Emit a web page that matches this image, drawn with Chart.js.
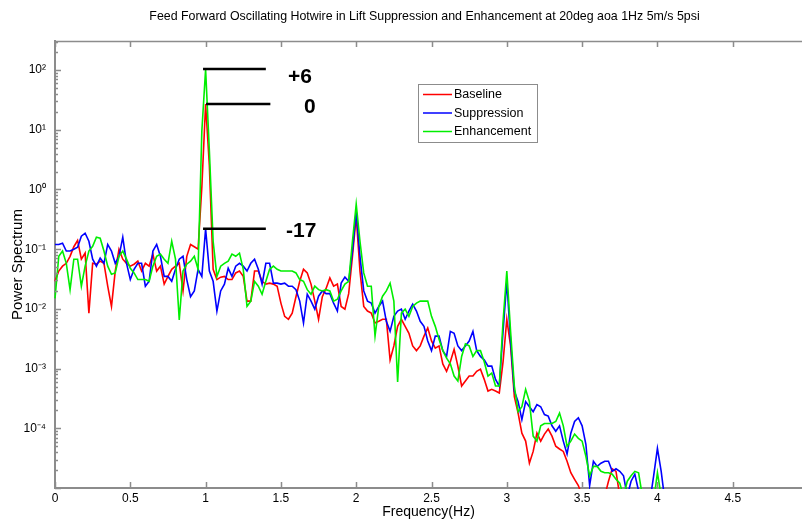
<!DOCTYPE html>
<html lang="en">
<head>
  <meta charset="UTF-8" />
  <title>Feed Forward Oscillating Hotwire - Power Spectrum</title>
  <script src="https://cdn.jsdelivr.net/npm/chart.js"></script>
  <style>
    body { margin: 0; background: #fff; }
    #wrap { width: 802px; height: 521px; }
  </style>
</head>
<body>
  <div id="wrap"><canvas id="psdChart" width="802" height="521"></canvas></div>

  <script>
    const TITLE = 'Feed Forward Oscillating Hotwire in Lift Suppression and Enhancement at 20deg aoa 1Hz 5m/s 5psi';
    const FREQ_STEP = 0.025; // Hz between spectrum bins

    const BASELINE = [
      0.029, 0.043, 0.052, 0.058, 0.076, 0.11, 0.14, 0.068, 0.086, 0.0085,
      0.058, 0.056, 0.063, 0.058, 0.024, 0.011, 0.043, 0.10, 0.068, 0.058,
      0.052, 0.056, 0.063, 0.043, 0.058, 0.052, 0.083, 0.043, 0.052, 0.026,
      0.035, 0.046, 0.052, 0.058, 0.020, 0.076, 0.12, 0.11, 0.10, 1.1,
      27, 2.5, 0.046, 0.031, 0.034, 0.035, 0.031, 0.031, 0.040, 0.043,
      0.035, 0.0135, 0.0135, 0.043, 0.043, 0.029, 0.026, 0.027, 0.026, 0.024,
      0.0125, 0.0075, 0.0067, 0.0085, 0.016, 0.029, 0.046, 0.040, 0.026, 0.0135,
      0.0067, 0.016, 0.022, 0.033, 0.024, 0.026, 0.011, 0.0099, 0.018, 0.076,
      0.36, 0.043, 0.011, 0.0092, 0.0085, 0.0058, 0.0062, 0.0067, 0.0067, 0.0014,
      0.0024, 0.0051, 0.0067, 0.0051, 0.0039, 0.0024, 0.0020, 0.0024, 0.0035, 0.0048,
      0.0029, 0.0022, 0.0024, 0.0012, 0.0009, 0.0013, 0.0021, 0.0011, 0.00051, 0.00062,
      0.00075, 0.00075, 0.0009, 0.00098, 0.00066, 0.00042, 0.00045, 0.00042, 0.00039, 0.0013,
      0.0067, 0.0024, 0.00034, 0.00018, 0.000083, 0.000061, 0.000026, 0.000041, 0.000083, 0.000061,
      0.00008, 0.000097, 0.000074, 0.00005, 0.000045, 0.000041, 0.000028, 0.000018, 0.000014, 0.000011,
      7.3e-6, 6e-6, 6e-6, 6e-6, 6e-6, 6e-6, 7.3e-6, 0.000013, 0.000021, 0.000019,
      7.3e-6, 6e-6, 6e-6, 6e-6, 6e-6, 6e-6, 6e-6, 6e-6, 6e-6, 6e-6, 6e-6, 6e-6
    ];

    const SUPPRESSION = [
      0.12, 0.12, 0.126, 0.093, 0.093, 0.10, 0.108, 0.165, 0.185, 0.136,
      0.068, 0.052, 0.071, 0.058, 0.12, 0.093, 0.058, 0.076, 0.159, 0.058,
      0.031, 0.046, 0.058, 0.058, 0.024, 0.029, 0.093, 0.12, 0.076, 0.035,
      0.035, 0.029, 0.046, 0.068, 0.076, 0.031, 0.016, 0.020, 0.046, 0.035,
      0.22, 0.043, 0.029, 0.0092, 0.020, 0.026, 0.048, 0.035, 0.052, 0.058,
      0.052, 0.043, 0.058, 0.068, 0.046, 0.026, 0.058, 0.058, 0.027, 0.027,
      0.026, 0.027, 0.024, 0.024, 0.021, 0.0135, 0.0058, 0.0176, 0.0135, 0.0099,
      0.0163, 0.020, 0.018, 0.018, 0.0125, 0.0092, 0.027, 0.034, 0.029, 0.093,
      0.43, 0.076, 0.020, 0.0135, 0.0125, 0.0085, 0.011, 0.0135, 0.0062, 0.0042,
      0.0075, 0.0092, 0.0099, 0.0067, 0.0092, 0.012, 0.0092, 0.0062, 0.0051, 0.0029,
      0.0020, 0.0035, 0.0035, 0.0020, 0.0016, 0.0042, 0.0039, 0.0024, 0.0020, 0.0024,
      0.0029, 0.0042, 0.0020, 0.0016, 0.0014, 0.0011, 0.0011, 0.00066, 0.00051, 0.0042,
      0.029, 0.0029, 0.00042, 0.00028, 0.00014, 0.00028, 0.00023, 0.00019, 0.00025, 0.00023,
      0.00017, 0.00016, 0.00011, 0.000089, 0.00011, 0.000061, 0.000037, 0.000083, 0.00013, 0.00015,
      0.00011, 0.000054, 0.000011, 0.000028, 0.000023, 0.000026, 0.000028, 0.000028, 0.000019, 0.000021,
      0.000019, 0.000016, 7.3e-6, 0.000013, 0.000017, 8.9e-6, 6.5e-6, 6e-6, 6e-6, 0.000016,
      0.000046, 0.000019, 6e-6
    ];

    const ENHANCEMENT = [
      0.015, 0.076, 0.093, 0.058, 0.021, 0.068, 0.068, 0.024, 0.052, 0.093,
      0.112, 0.159, 0.153, 0.093, 0.052, 0.038, 0.040, 0.076, 0.093, 0.068,
      0.048, 0.040, 0.031, 0.031, 0.031, 0.029, 0.052, 0.076, 0.083, 0.068,
      0.058, 0.136, 0.068, 0.0065, 0.043, 0.056, 0.063, 0.076, 0.046, 9.5,
      103, 4.4, 0.136, 0.035, 0.052, 0.058, 0.063, 0.083, 0.076, 0.086,
      0.046, 0.011, 0.0135, 0.029, 0.024, 0.0176, 0.029, 0.046, 0.052, 0.046,
      0.043, 0.043, 0.043, 0.043, 0.040, 0.031, 0.029, 0.021, 0.0176, 0.024,
      0.021, 0.020, 0.021, 0.020, 0.0135, 0.0145, 0.020, 0.026, 0.029, 0.136,
      0.57, 0.136, 0.040, 0.024, 0.024, 0.0035, 0.011, 0.0163, 0.020, 0.027,
      0.0135, 0.0006, 0.0085, 0.0099, 0.0075, 0.011, 0.0125, 0.0135, 0.0135, 0.0135,
      0.0075, 0.0051, 0.0031, 0.0020, 0.0015, 0.0012, 0.00075, 0.00062, 0.0016, 0.0026,
      0.0024, 0.0016, 0.0020, 0.0020, 0.0013, 0.00075, 0.00084, 0.00051, 0.00051, 0.0062,
      0.043, 0.0042, 0.00051, 0.00019, 0.00023, 0.00045, 0.00028, 0.000074, 0.000061, 0.00011,
      0.00012, 0.00012, 0.00012, 0.00013, 0.00018, 0.00011, 0.00005, 0.000061, 0.00008, 0.000068,
      0.000061, 0.000034, 0.000016, 0.000023, 0.000023, 0.000019, 0.000018, 0.000018, 0.000017, 0.000014,
      0.000012, 7.3e-6, 0.000013, 0.000016, 0.000019, 0.000018, 7.3e-6, 6e-6, 6e-6, 6e-6,
      0.000018, 7.3e-6
    ];

    const X_TICKS = [0, 0.5, 1, 1.5, 2, 2.5, 3, 3.5, 4, 4.5];

    // horizontal marker lines at the 1 Hz peak and their dB labels
    const MARK_LABELS = ['+6', '0', '-17'];
    const MARK_LEVELS = [104, 27, 0.22];
    const MARK_START = [0.983, 1.003, 0.983];
    const MARK_END = [1.40, 1.43, 1.40];
    const MARK_TEXT_X = [1.547, 1.653, 1.534];
    const MARK_TEXT_Y = [76, 24, 0.20];

    const AXIS_GREY = '#8c8c8c';
    const FONT = 'Arial, "Liberation Sans", sans-serif';

    function toPoints(values) {
      return values.map((v, i) => ({ x: +(i * FREQ_STEP).toFixed(3), y: v }));
    }

    const SUP = { '-': '\u207B', '0': '\u2070', '1': '\u00B9', '2': '\u00B2', '3': '\u00B3', '4': '\u2074', '5': '\u2075' };
    function powerLabel(v) {
      const e = Math.log10(v);
      const r = Math.round(e);
      if (Math.abs(e - r) > 1e-6 || r < -4 || r > 2) return '';
      return '10' + String(r).split('').map(c => SUP[c]).join('');
    }

    const series = [
      { label: 'Baseline', values: BASELINE, color: '#ff0000', order: 3 },
      { label: 'Suppression', values: SUPPRESSION, color: '#0000ff', order: 2 },
      { label: 'Enhancement', values: ENHANCEMENT, color: '#00ee00', order: 1 }
    ];

    const datasets = series.map(s => ({
      label: s.label,
      data: toPoints(s.values),
      borderColor: s.color,
      backgroundColor: s.color,
      borderWidth: 1.6,
      pointRadius: 0,
      tension: 0,
      order: s.order,
      clip: 1
    }));

    MARK_LEVELS.forEach((lvl, k) => {
      datasets.push({
        label: 'mark ' + MARK_LABELS[k],
        data: [{ x: MARK_START[k], y: lvl }, { x: MARK_END[k], y: lvl }],
        borderColor: '#000',
        borderWidth: 2.5,
        pointRadius: 0,
        order: 0
      });
    });

    const matlabFrame = {
      id: 'matlabFrame',
      afterDatasetsDraw(chart) {
        const { ctx, chartArea: a, scales: { x, y } } = chart;
        ctx.save();

        // top border and inward ticks
        ctx.strokeStyle = AXIS_GREY;
        ctx.lineWidth = 1.5;
        ctx.beginPath();
        ctx.moveTo(a.left, a.top + 0.5);
        ctx.lineTo(a.right, a.top + 0.5);
        X_TICKS.forEach(v => {
          const px = Math.round(x.getPixelForValue(v)) + 0.5;
          ctx.moveTo(px, a.bottom);
          ctx.lineTo(px, a.bottom - 6);
          ctx.moveTo(px, a.top);
          ctx.lineTo(px, a.top + 6);
        });
        for (let e = -5; e <= 2; e++) {
          for (let k = 1; k <= 9; k++) {
            const v = k * Math.pow(10, e);
            if (v < y.min || v > y.max) continue;
            const py = Math.round(y.getPixelForValue(v)) + 0.5;
            ctx.moveTo(a.left, py);
            ctx.lineTo(a.left + (k === 1 ? 6 : 3), py);
          }
        }
        ctx.stroke();

        // marker labels
        ctx.fillStyle = '#000';
        ctx.font = 'bold 21px ' + FONT;
        ctx.textAlign = 'left';
        ctx.textBaseline = 'middle';
        MARK_LABELS.forEach((t, k) => {
          ctx.fillText(t, x.getPixelForValue(MARK_TEXT_X[k]), y.getPixelForValue(MARK_TEXT_Y[k]));
        });

        // legend box
        const lx = a.left + 363, ly = a.top + 43, lw = 119, lh = 58;
        ctx.fillStyle = '#fff';
        ctx.fillRect(lx, ly, lw, lh);
        ctx.strokeStyle = '#8c8c8c';
        ctx.lineWidth = 1;
        ctx.strokeRect(lx + 0.5, ly + 0.5, lw, lh);
        ctx.font = '12.5px ' + FONT;
        ctx.textBaseline = 'middle';
        series.forEach((s, i) => {
          const ry = ly + 10.5 + i * 18.5;
          ctx.strokeStyle = s.color;
          ctx.lineWidth = 1.5;
          ctx.beginPath();
          ctx.moveTo(lx + 5, ry);
          ctx.lineTo(lx + 34, ry);
          ctx.stroke();
          ctx.fillStyle = '#000';
          ctx.fillText(s.label, lx + 36, ry + 0.5);
        });

        // title
        ctx.font = '12.4px ' + FONT;
        ctx.textAlign = 'center';
        ctx.fillText(TITLE, (a.left + a.right) / 2 - 4, 17);
        ctx.restore();
      }
    };

    new Chart(document.getElementById('psdChart'), {
      type: 'line',
      data: { datasets },
      plugins: [matlabFrame],
      options: {
        responsive: false,
        animation: false,
        layout: { padding: { top: 41, right: 0, bottom: 0, left: 0 } },
        plugins: {
          legend: { display: false },
          tooltip: { enabled: false }
        },
        scales: {
          x: {
            type: 'linear',
            min: 0,
            max: 4.96,
            afterFit: s => { s.height = 33; },
            grid: { display: false, drawTicks: false },
            border: { display: true, color: AXIS_GREY, width: 2 },
            ticks: {
              stepSize: 0.5,
              includeBounds: false,
              padding: 3,
              maxRotation: 0,
              color: '#000',
              font: { family: FONT, size: 12 },
              callback: v => String(+v.toFixed(2))
            },
            title: {
              display: true,
              text: 'Frequency(Hz)',
              color: '#000',
              font: { family: FONT, size: 14 },
              padding: { top: 0, bottom: 0 }
            }
          },
          y: {
            type: 'logarithmic',
            min: 1e-5,
            max: 307,
            afterFit: s => { s.width = 55; },
            grid: { display: false, drawTicks: false },
            border: { display: true, color: AXIS_GREY, width: 2 },
            ticks: {
              autoSkip: false,
              padding: 9,
              color: '#000',
              font: { family: FONT, size: 12 },
              callback: powerLabel
            },
            title: {
              display: true,
              text: 'Power Spectrum',
              color: '#000',
              font: { family: FONT, size: 15 },
              padding: { top: 9, bottom: 0 }
            }
          }
        }
      }
    });
  </script>
</body>
</html>
